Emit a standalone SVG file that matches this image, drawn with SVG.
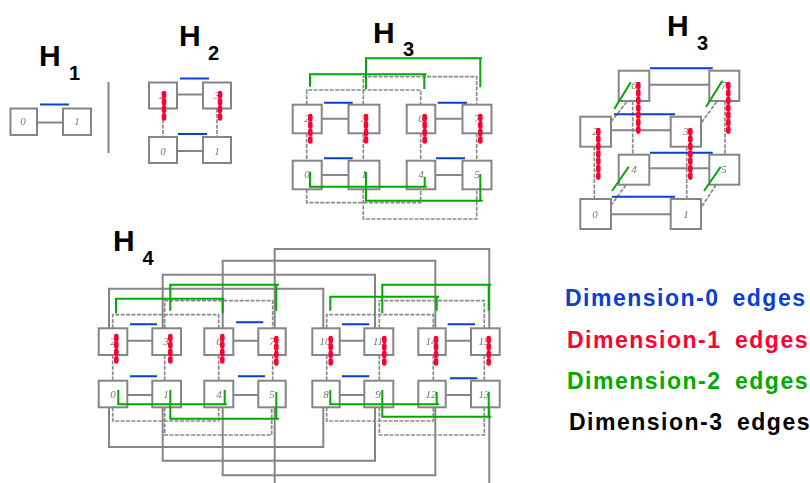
<svg xmlns="http://www.w3.org/2000/svg" width="810" height="483" viewBox="0 0 810 483">
<defs><filter id="soft" x="-5%" y="-5%" width="110%" height="110%"><feGaussianBlur stdDeviation="0.5"/></filter></defs>
<style>
text{font-family:"Liberation Sans",Arial,sans-serif}
.t{font-weight:bold;font-size:30px;fill:#000}
.s{font-weight:bold;font-size:20px;fill:#000}
.leg{font-weight:bold;font-size:23px;letter-spacing:1.5px}
.n rect{fill:#fff;stroke:#858585;stroke-width:2}
.n text{font-family:"Liberation Serif",serif;font-style:italic;font-size:11px;fill:#777;text-anchor:middle}
path{fill:none}
.g3{stroke:#858585;stroke-width:2}
.d{stroke:#8a8a8a;stroke-width:1.7;stroke-dasharray:4 1.4}
.e0{stroke:#0a3fd0;stroke-width:2}
.e1{stroke:#ff0033;stroke-width:4.6;stroke-linecap:round;stroke-dasharray:3.2 4.2}
.e2{stroke:#00aa00;stroke-width:2}
</style>
<rect width="810" height="483" fill="#fff"/>
<g id="titles">
<text class="t" x="39" y="66">H</text><text class="s" x="69" y="80">1</text>
<text class="t" x="179" y="46">H</text><text class="s" x="208" y="60">2</text>
<text class="t" x="373" y="42.5">H</text><text class="s" x="403" y="56">3</text>
<text class="t" x="667" y="36">H</text><text class="s" x="697" y="50">3</text>
<text class="t" x="113" y="250.5">H</text><text class="s" x="142.500" y="264.500">4</text>
</g>
<g id="nodes" filter="url(#soft)">
<g id="h1-0" class="n"><rect x="10.500" y="108.500" width="26.500" height="26.500"/><text x="23" y="125">0</text></g>
<g id="h1-1" class="n"><rect x="63" y="108.500" width="28" height="26.500"/><text x="77" y="125">1</text></g>
<g id="h2-2" class="n"><rect x="149" y="82.500" width="28" height="26"/><text x="162" y="99">2</text></g>
<g id="h2-3" class="n"><rect x="203" y="82.500" width="28" height="26"/><text x="217" y="99">3</text></g>
<g id="h2-0" class="n"><rect x="149" y="137" width="28" height="26"/><text x="163" y="155">0</text></g>
<g id="h2-1" class="n"><rect x="203" y="137" width="28" height="26"/><text x="217" y="155">1</text></g>
<g id="a-2" class="n"><rect x="292.700" y="104.700" width="29" height="28.600"/><text x="307" y="122">2</text></g>
<g id="a-3" class="n"><rect x="348.500" y="104.700" width="31" height="28.600"/><text x="364" y="122">3</text></g>
<g id="a-6" class="n"><rect x="406.700" y="104.700" width="28.600" height="28.600"/><text x="421" y="122">6</text></g>
<g id="a-7" class="n"><rect x="462.500" y="104.700" width="29" height="28.600"/><text x="477" y="122">7</text></g>
<g id="a-0" class="n"><rect x="292.700" y="160.700" width="29" height="28.600"/><text x="307" y="178">0</text></g>
<g id="a-1" class="n"><rect x="348.500" y="160.700" width="31" height="28.600"/><text x="364" y="178">1</text></g>
<g id="a-4" class="n"><rect x="406.700" y="160.700" width="28.600" height="28.600"/><text x="421" y="178">4</text></g>
<g id="a-5" class="n"><rect x="462.500" y="160.700" width="29" height="28.600"/><text x="477" y="178">5</text></g>
<g id="b-6" class="n"><rect x="618.700" y="70.700" width="30.600" height="30.300"/><text x="634" y="89">6</text></g>
<g id="b-7" class="n"><rect x="709.300" y="70.700" width="30" height="30.300"/><text x="724" y="89">7</text></g>
<g id="b-2" class="n"><rect x="580.300" y="116.700" width="30.700" height="30"/><text x="595" y="135">2</text></g>
<g id="b-3" class="n"><rect x="670.700" y="116.700" width="30.300" height="30"/><text x="686" y="135">3</text></g>
<g id="b-4" class="n"><rect x="618.700" y="154.700" width="30.600" height="30"/><text x="634" y="173">4</text></g>
<g id="b-5" class="n"><rect x="709.300" y="154.700" width="30" height="30"/><text x="724" y="173">5</text></g>
<g id="b-0" class="n"><rect x="580.300" y="199" width="30.700" height="30"/><text x="595" y="218">0</text></g>
<g id="b-1" class="n"><rect x="670.700" y="199" width="30.300" height="30"/><text x="686" y="218">1</text></g>
<g id="c-2" class="n"><rect x="98.700" y="328.300" width="28.600" height="26.700"/><text x="113" y="345">2</text></g>
<g id="c-3" class="n"><rect x="152.300" y="328.300" width="28.700" height="26.700"/><text x="166" y="345">3</text></g>
<g id="c-6" class="n"><rect x="204.300" y="328.300" width="29" height="26.700"/><text x="219" y="345">6</text></g>
<g id="c-7" class="n"><rect x="258.300" y="328.300" width="27.400" height="26.700"/><text x="272" y="345">7</text></g>
<g id="c-0" class="n"><rect x="98.700" y="380.700" width="28.600" height="26.600"/><text x="113" y="398">0</text></g>
<g id="c-1" class="n"><rect x="152.300" y="380.700" width="28.700" height="26.600"/><text x="166" y="398">1</text></g>
<g id="c-4" class="n"><rect x="204.300" y="380.700" width="29" height="26.600"/><text x="219" y="398">4</text></g>
<g id="c-5" class="n"><rect x="258.300" y="380.700" width="27.400" height="26.600"/><text x="272" y="398">5</text></g>
<g id="c-10" class="n"><rect x="312.300" y="328.300" width="27.400" height="26.700"/><text x="325" y="345">10</text></g>
<g id="c-11" class="n"><rect x="364.300" y="328.300" width="29" height="26.700"/><text x="378" y="345">11</text></g>
<g id="c-14" class="n"><rect x="418.300" y="328.300" width="27.400" height="26.700"/><text x="431" y="345">14</text></g>
<g id="c-15" class="n"><rect x="471" y="328.300" width="28.700" height="26.700"/><text x="484" y="345">15</text></g>
<g id="c-8" class="n"><rect x="312.300" y="380.700" width="27.400" height="26.600"/><text x="326" y="398">8</text></g>
<g id="c-9" class="n"><rect x="364.300" y="380.700" width="29" height="26.600"/><text x="378" y="398">9</text></g>
<g id="c-12" class="n"><rect x="418.300" y="380.700" width="27.400" height="26.600"/><text x="431" y="398">12</text></g>
<g id="c-13" class="n"><rect x="471" y="380.700" width="28.700" height="26.600"/><text x="484" y="398">13</text></g>
</g>
<g id="connectors">
<g filter="url(#soft)">
<path class="g3" d="M108.500 82V153M37 122.500H63M177 94.500H203M177 151H203
M321.700 118.700H348.500M435.300 118.700H462.500M321.700 175H348.500M435.300 175H462.500
M649.300 84.700H709.300M611 130.300H670.700M649.300 168.300H709.300M611 214.300H670.700
M127.300 340.700H152.300M233.300 340.700H258.300M339.700 340.700H364.300M445.700 340.700H471
M127.300 395H152.300M233.300 395H258.300M339.700 395H364.300M445.700 395H471
M109 328V288.700H323.300V328M162.700 328V274.700H375V328M222.700 328V260.700H435.300V328M274.700 328V249H489.300V328
M109 407V447H323.300V407M162.700 407V460.700H375V407M222.700 407V475.300H435.300V407M274.700 407V483M489.300 407V483"/>
<path class="d" d="M163 108.500V137M217 108.500V137
M306.700 133.300V160.700M363.300 133.300V160.700M420.700 133.300V160.700M476.700 133.300V160.700
M306.700 104.700V90H420.700V104.700M363.300 104.700V76.700H476.700V104.700M306.700 189.300V202.700H420.700V189.300M363.300 189.300V219H476.700V189.300
M632.700 101V154.700M725 101V154.700M594.300 146.700V199M686.700 146.700V199
M626.700 101.700L610 123.300M716.700 101.700L701 123.300M626 185L610 206.700M716 185L701.700 206.700
M112.700 355V380.700M164.700 355V380.700M218.700 355V380.700M272.700 355V380.700M326.700 355V380.700M379.300 355V380.700M433.300 355V380.700M484.300 355V380.700
M112.700 328.300V314.700H218.700V328.300M164.700 328.300V300.700H272.700V328.300M112.700 407.300V421H218.700V407.300M164.700 407.300V435H271.700V407.300
M326.700 328.300V314.700H433.300V328.300M379.300 328.300V300.700H484.300V328.300M326.700 407.300V421H433.300V407.300M379.300 407.300V435H484.300V407.300"/>
</g>
<path class="e0" d="M40 104.500H69M180 78.500H209M178 134H207
M324 102.700H352.700M437.700 102.700H467M324 158.300H352.700M436 158.300H465
M650 68.300H712.700M614 114.300H675M650 152.700H712.700M612 196.700H675
M130 324.300H157M236 322.300H263.300M130 376.300H157M238 376.300H265
M342 324.300H369.300M447.700 324.300H475M342 376.300H369.300M450 378.300H477.300"/>
<path class="e1" d="M164 93V121M220 93V121
M310.300 116V145M366 116V145M424.700 116V145M480.300 116V143
M638.300 84V135M728.300 84V135M598.300 130V181.700M690.300 130V181.700
M116.300 336V365M170.300 336V365M222.300 336V363M276.300 338V367
M330.700 338V365M384.300 338V365M436 338V365M488.700 338V365"/>
<path class="e2" d="M310 86.700V74.300H426.500M424.300 74.300V89M366 89V58.300H482M480.300 58.300V87.300
M310 171.700V186.700H426.700M424.700 176.700V186.700M366 172V200.700H482.700M480.300 174V200.700
M630.700 82.300L614.300 109M722.300 80.700L706 107M628.700 166.700L612 191M720.700 166.700L704 191
M116 313.300V298.700H224.300M222.700 298.700V313.300M170.300 310.700V284.700H279M276.300 284.700V310.700
M118.300 390V404.300H226.700M224.700 390V404.300M170.300 390V418.700H279M276.300 392V418.700
M330.300 310.700V296.700H439M436.700 296.700V310.700M382.300 313.300V284.700H491.300M488.700 284.700V310.700
M330.300 390V404.300H439M436.700 392V404.300M382.300 390V416.700H491.300M488.700 392V416.700"/>
</g>
<g id="legend">
<text class="leg" fill="#0a3fd0" y="306"><tspan x="565">Dimension-0</tspan> <tspan x="732.500">edges</tspan></text>
<text class="leg" fill="#ff0033" y="348"><tspan x="567">Dimension-1</tspan> <tspan x="735">edges</tspan></text>
<text class="leg" fill="#00aa00" y="388.500"><tspan x="567">Dimension-2</tspan> <tspan x="735">edges</tspan></text>
<text class="leg" fill="#000" y="430"><tspan x="569">Dimension-3</tspan> <tspan x="737">edges</tspan></text>
</g>
</svg>
